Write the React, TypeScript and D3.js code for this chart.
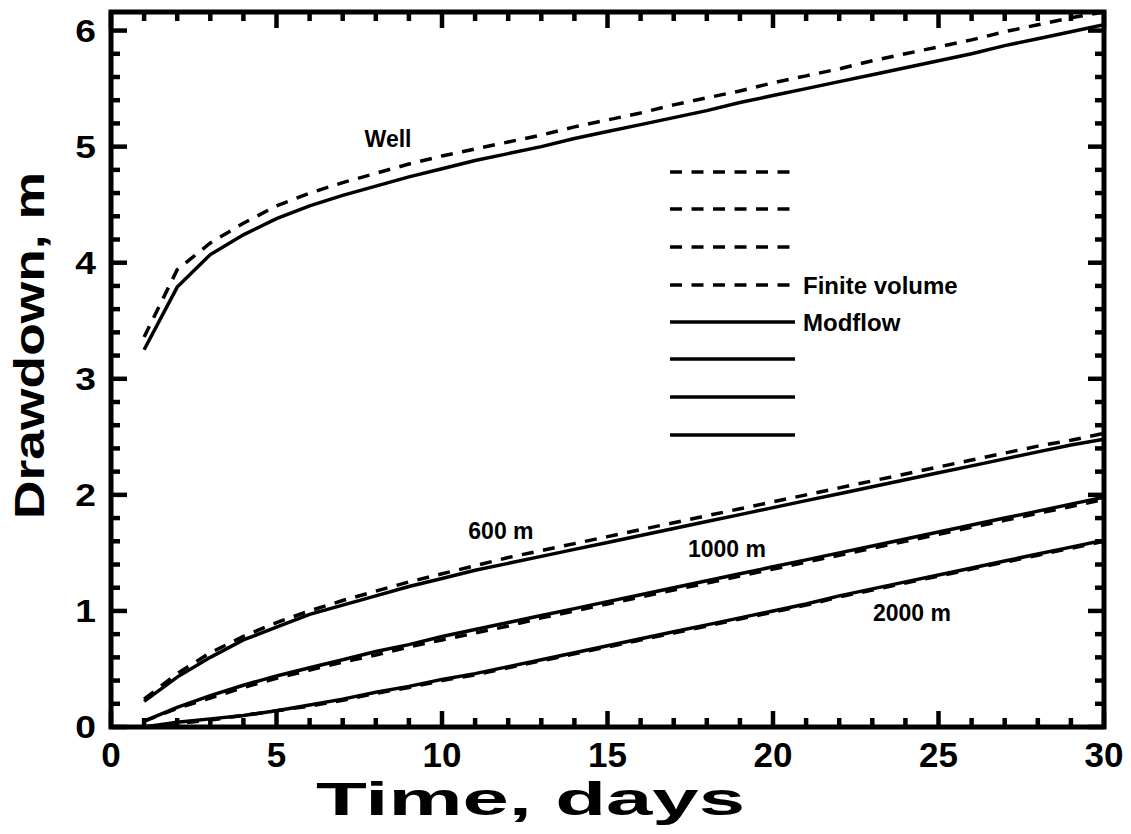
import React from 'react';
import * as d3 from 'd3';

const days = [1, 2, 3, 4, 5, 6, 7, 8, 9, 10, 11, 12, 13, 14, 15, 16, 17, 18, 19, 20, 21, 22, 23, 24, 25, 26, 27, 28, 29, 30];

const wellFiniteVolume = [3.36, 3.94, 4.17, 4.34, 4.49, 4.60, 4.69, 4.77, 4.85, 4.92, 4.98, 5.04, 5.10, 5.17, 5.23, 5.29, 5.36, 5.42, 5.48, 5.55, 5.61, 5.67, 5.74, 5.80, 5.86, 5.92, 5.99, 6.05, 6.11, 6.16];
const wellModflow = [3.25, 3.79, 4.07, 4.24, 4.38, 4.49, 4.58, 4.66, 4.74, 4.81, 4.88, 4.94, 5.00, 5.07, 5.13, 5.19, 5.25, 5.31, 5.38, 5.44, 5.50, 5.56, 5.62, 5.68, 5.74, 5.80, 5.87, 5.93, 5.99, 6.05];
const m600FiniteVolume = [0.24, 0.46, 0.64, 0.78, 0.90, 1.00, 1.09, 1.17, 1.25, 1.32, 1.39, 1.46, 1.52, 1.58, 1.64, 1.70, 1.76, 1.82, 1.88, 1.94, 2.00, 2.06, 2.12, 2.18, 2.24, 2.30, 2.36, 2.42, 2.47, 2.53];
const m600Modflow = [0.22, 0.43, 0.60, 0.75, 0.86, 0.97, 1.05, 1.13, 1.21, 1.28, 1.35, 1.41, 1.47, 1.53, 1.59, 1.65, 1.71, 1.77, 1.83, 1.89, 1.95, 2.01, 2.07, 2.13, 2.19, 2.25, 2.31, 2.37, 2.43, 2.48];
const m1000FiniteVolume = [0.05, 0.16, 0.25, 0.34, 0.42, 0.49, 0.56, 0.62, 0.69, 0.75, 0.81, 0.87, 0.94, 1.00, 1.06, 1.12, 1.18, 1.24, 1.30, 1.36, 1.42, 1.48, 1.54, 1.60, 1.66, 1.72, 1.78, 1.84, 1.90, 1.96];
const m1000Modflow = [0.05, 0.17, 0.27, 0.36, 0.44, 0.51, 0.58, 0.65, 0.71, 0.78, 0.84, 0.90, 0.96, 1.02, 1.08, 1.14, 1.20, 1.26, 1.32, 1.38, 1.44, 1.50, 1.56, 1.62, 1.68, 1.74, 1.80, 1.86, 1.92, 1.98];
const m2000FiniteVolume = [0.00, 0.03, 0.06, 0.10, 0.14, 0.18, 0.23, 0.29, 0.34, 0.40, 0.45, 0.51, 0.57, 0.63, 0.69, 0.75, 0.81, 0.87, 0.93, 0.99, 1.05, 1.12, 1.18, 1.24, 1.30, 1.36, 1.42, 1.48, 1.54, 1.60];
const m2000Modflow = [0.00, 0.04, 0.07, 0.10, 0.14, 0.19, 0.24, 0.30, 0.35, 0.41, 0.46, 0.52, 0.58, 0.64, 0.70, 0.76, 0.82, 0.88, 0.94, 1.00, 1.06, 1.13, 1.19, 1.25, 1.31, 1.37, 1.43, 1.49, 1.55, 1.61];

const xMajorTicks = [0, 5, 10, 15, 20, 25, 30];
const yMajorTicks = [0, 1, 2, 3, 4, 5, 6];
const xTitle = 'Time, days';
const yTitle = 'Drawdown, m';

const curveLabels = [
  { text: 'Well', t: 8.37, v: 5.07 },
  { text: '600 m', t: 11.78, v: 1.685 },
  { text: '1000 m', t: 18.61, v: 1.53 },
  { text: '2000 m', t: 24.2, v: 0.98 },
];

const legendFV = ['', '', '', 'Finite volume'];
const legendMF = ['Modflow', '', '', ''];

const FONT = '"Liberation Sans", Arial, Helvetica, sans-serif';

export default function App() {
  const W = 1131, H = 834;
  const left = 111, right = 1104, top = 12, bottom = 727;
  const x = d3.scaleLinear().domain([0, 30]).range([left, right]);
  const y = d3.scaleLinear().domain([0, 6.16]).range([bottom, top]);

  const line = (vals: number[]) =>
    d3.line<number>().x((_, i) => x(days[i])).y((d) => y(d))(vals) || '';

  const xMinor = d3.range(0, 31, 1).filter((d) => d % 5 !== 0);
  const yMinor = d3.range(0, 6.16, 0.2).map((d) => Math.round(d * 10) / 10).filter((d) => Math.abs(d - Math.round(d)) > 1e-6);

  const majLen = 16, minLen = 9;
  const dash = '12,9.5';
  const sw = 3.5;

  const fv = [wellFiniteVolume, m600FiniteVolume, m1000FiniteVolume, m2000FiniteVolume];
  const mf = [wellModflow, m600Modflow, m1000Modflow, m2000Modflow];

  const legX0 = 670, legX1 = 795;
  const legFVy = [172, 209, 247, 285];
  const legMFy = [322, 359, 397, 435];

  return (
    <svg width={W} height={H} style={{ position: 'absolute', left: 0, top: 0, background: '#fff' }} fontFamily={FONT} fontWeight="bold">
      <defs>
        <clipPath id="plot">
          <rect x={left} y={top} width={right - left} height={bottom - top} />
        </clipPath>
      </defs>
      <rect x={0} y={0} width={W} height={H} fill="#fff" />
      <g clipPath="url(#plot)" fill="none" stroke="#000" strokeWidth={sw}>
        {fv.map((s, i) => (
          <path key={'fv' + i} d={line(s)} strokeDasharray={dash} />
        ))}
        {mf.map((s, i) => (
          <path key={'mf' + i} d={line(s)} />
        ))}
      </g>
      {/* legend */}
      <g stroke="#000" strokeWidth={sw}>
        {legFVy.map((yy, i) => (
          <line key={'lf' + i} x1={legX0} x2={legX1} y1={yy} y2={yy} strokeDasharray={dash} />
        ))}
        {legMFy.map((yy, i) => (
          <line key={'lm' + i} x1={legX0} x2={legX1} y1={yy} y2={yy} />
        ))}
      </g>
      <g fontSize={24} fill="#000">
        {legendFV.map((t, i) => t ? <text key={'tf' + i} x={803} y={legFVy[i] + 9}>{t}</text> : null)}
        {legendMF.map((t, i) => t ? <text key={'tm' + i} x={803} y={legMFy[i] + 9}>{t}</text> : null)}
      </g>
      {/* curve labels */}
      <g fontSize={23} fill="#000" textAnchor="middle">
        {curveLabels.map((c) => (
          <text key={c.text} x={x(c.t)} y={y(c.v)} dy="0.35em">{c.text}</text>
        ))}
      </g>
      {/* ticks */}
      <g stroke="#000" strokeWidth={4.5}>
        {xMajorTicks.map((t) => (
          <g key={'xM' + t}>
            <line x1={x(t)} x2={x(t)} y1={bottom} y2={bottom - majLen} />
            <line x1={x(t)} x2={x(t)} y1={top} y2={top + majLen} />
          </g>
        ))}
        {xMinor.map((t) => (
          <g key={'xm' + t}>
            <line x1={x(t)} x2={x(t)} y1={bottom} y2={bottom - minLen} />
            <line x1={x(t)} x2={x(t)} y1={top} y2={top + minLen} />
          </g>
        ))}
        {yMajorTicks.map((t) => (
          <g key={'yM' + t}>
            <line x1={left} x2={left + majLen} y1={y(t)} y2={y(t)} />
            <line x1={right} x2={right - majLen} y1={y(t)} y2={y(t)} />
          </g>
        ))}
        {yMinor.map((t) => (
          <g key={'ym' + t}>
            <line x1={left} x2={left + minLen} y1={y(t)} y2={y(t)} />
            <line x1={right} x2={right - minLen} y1={y(t)} y2={y(t)} />
          </g>
        ))}
      </g>
      <rect x={left} y={top} width={right - left} height={bottom - top} fill="none" stroke="#000" strokeWidth={5} />
      {/* tick labels */}
      <g fontSize={35} fill="#000" textAnchor="middle">
        {xMajorTicks.map((t) => (
          <text key={'xl' + t} x={x(t)} y={767}>{t}</text>
        ))}
      </g>
      <g fontSize={31} fill="#000" textAnchor="end">
        {yMajorTicks.map((t) => (
          <text key={'yl' + t} transform={`translate(96,${y(t) + 11}) scale(1.2,1)`}>{t}</text>
        ))}
      </g>
      {/* axis titles */}
      <text x={316} y={815} fontSize={46} fill="#000" textLength={429} lengthAdjust="spacingAndGlyphs">{xTitle}</text>
      <text transform={`translate(44,519) rotate(-90)`} fontSize={42} fill="#000" textLength={347} lengthAdjust="spacingAndGlyphs">{yTitle}</text>
    </svg>
  );
}
